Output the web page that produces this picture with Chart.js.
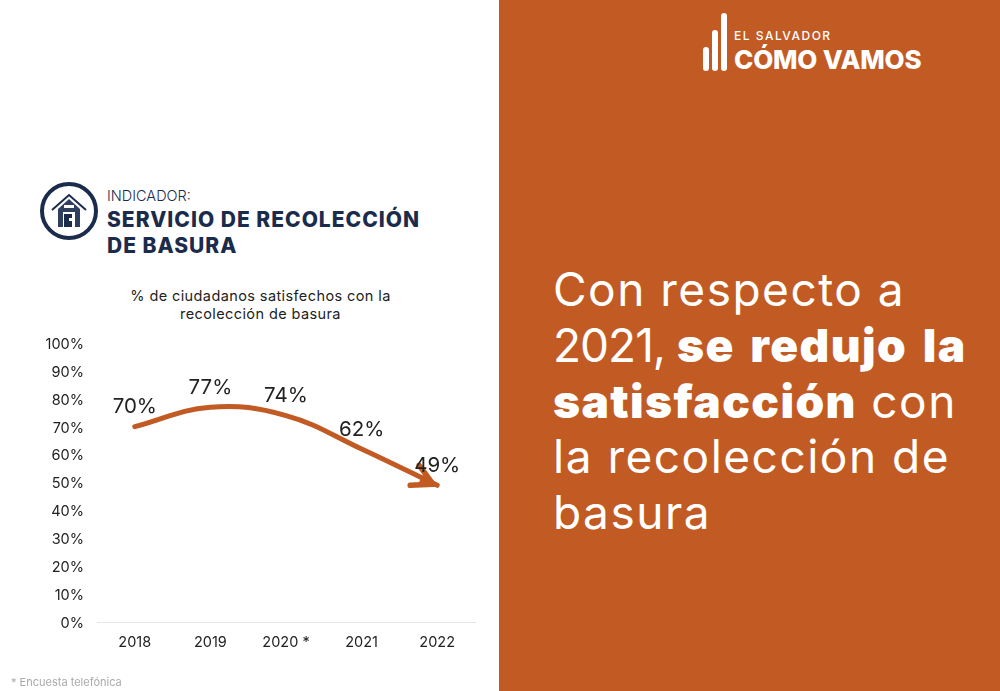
<!DOCTYPE html>
<html lang="es">
<head>
<meta charset="utf-8">
<title>Servicio de recolección de basura</title>
<script src="https://cdn.jsdelivr.net/npm/chart.js@4"></script>
<style>
    html, body { margin: 0; padding: 0; background: #fff; }
    body { width: 1000px; height: 691px; position: relative; overflow: hidden; font-family: Inter, sans-serif; }
    .t { position: absolute; white-space: nowrap; line-height: 1; }
    #panel { position: absolute; left: 499px; top: 0; width: 501px; height: 691px; background: #c25a24; }
    #grafica { position: absolute; left: 0; top: 320px; }
    .barra { position: absolute; width: 6px; background: #fff; border-radius: 3px; }
    #mensaje { left: 553px; top: 262px; font-size: 46px; line-height: 55.8px; color: #fff; font-weight: 400; letter-spacing: 1.5px; }
    #mensaje b { font-weight: 900; letter-spacing: 1.4px; word-spacing: 5px; }
    #mensaje span { letter-spacing: -1px; }
</style>
</head>
<body>
<div id="panel"></div>

<!-- logo -->
<div class="barra" style="left:703px;top:47px;height:24px"></div>
<div class="barra" style="left:712px;top:30px;height:41px"></div>
<div class="barra" style="left:721px;top:13px;height:58px"></div>
<div class="t" style="left:734px;top:30px;font-size:12px;font-weight:500;letter-spacing:1.5px;color:#fff">EL SALVADOR</div>
<div class="t" style="left:734px;top:47px;font-size:26px;font-weight:800;letter-spacing:-.2px;color:#fff">CÓMO VAMOS</div>

<!-- icono -->
<svg style="position:absolute;left:38px;top:180px" width="62" height="62" viewBox="0 0 62 62">
    <circle cx="31" cy="31" r="27" fill="none" stroke="#1b2b4b" stroke-width="4"/>
    <path d="M14 30 L31 15 L48 30" fill="none" stroke="#1b2b4b" stroke-width="2"/>
    <path d="M20 29 L31 19 L42 29 V47 H20 Z" fill="#2f3f5f"/>
    <rect x="26" y="25" width="10" height="3" fill="#fff"/>
    <rect x="25" y="32" width="12" height="15" fill="#fff"/>
    <rect x="26" y="34" width="8" height="13" fill="#1b2b4b"/>
    <rect x="31" y="38" width="3" height="3" fill="#fff"/>
</svg>

<div class="t" style="left:107px;top:189px;font-size:14.5px;font-weight:300;color:#1b2b4b">INDICADOR:</div>
<div class="t" style="left:107px;top:209px;font-size:21px;font-weight:800;letter-spacing:1px;color:#1b2b4b">SERVICIO DE RECOLECCIÓN</div>
<div class="t" style="left:107px;top:235px;font-size:21px;font-weight:800;letter-spacing:1px;color:#1b2b4b">DE BASURA</div>
<div class="t" style="left:130px;top:287px;width:261px;text-align:center;font-size:14.5px;letter-spacing:.4px;line-height:18px;color:#222">% de ciudadanos satisfechos con la<br>recolección de basura</div>

<canvas id="grafica" width="499" height="371"></canvas>

<div class="t" style="left:11px;top:677px;font-size:11px;color:#aaa">* Encuesta telefónica</div>

<div id="mensaje" class="t">Con respecto a<br><span>2021, </span><b>se redujo la</b><br><b>satisfacción</b> con<br>la recolección de<br>basura</div>

<script>
const categorias = ['2018', '2019', '2020 *', '2021', '2022'];
const satisfechos = [70, 77, 74, 62, 49];
const colorLinea = '#c25a24';

// punta de flecha y etiquetas de valor, encima de la línea
const flechaEtiquetas = {
    id: 'flechaEtiquetas',
    afterDatasetsDraw(chart) {
        const ctx = chart.ctx;
        const puntos = chart.getDatasetMeta(0).data;
        const ultimo = puntos[puntos.length - 1];

        ctx.save();
        ctx.strokeStyle = colorLinea;
        ctx.fillStyle = colorLinea;
        ctx.lineWidth = 5.5;
        ctx.lineCap = 'round';
        ctx.lineJoin = 'round';
        ctx.beginPath();
        ctx.moveTo(ultimo.x - 27, ultimo.y);
        ctx.lineTo(ultimo.x - 4, ultimo.y - 1);
        ctx.lineTo(ultimo.x - 18, ultimo.y - 20);
        ctx.stroke();
        // relleno junto a la punta
        ctx.beginPath();
        ctx.moveTo(ultimo.x, ultimo.y + 1);
        ctx.lineTo(ultimo.x - 20, ultimo.y);
        ctx.lineTo(ultimo.x - 12, ultimo.y - 14);
        ctx.closePath();
        ctx.fill();

        ctx.fillStyle = '#222';
        ctx.font = '20.5px Inter';
        ctx.textAlign = 'center';
        ctx.textBaseline = 'middle';
        puntos.forEach((p, i) => {
            ctx.fillText(satisfechos[i] + '%', p.x, p.y - 19.5);
        });
        ctx.restore();
    }
};

new Chart(document.getElementById('grafica'), {
    type: 'line',
    data: {
        labels: categorias,
        datasets: [{
            data: satisfechos,
            borderColor: colorLinea,
            borderWidth: 5,
            borderCapStyle: 'round',
            tension: 0.4,
            pointRadius: 0,
            fill: false,
            clip: false
        }]
    },
    options: {
        responsive: false,
        animation: false,
        layout: { padding: { top: 23, right: 24, bottom: 29, left: 0 } },
        plugins: { legend: { display: false }, tooltip: { enabled: false } },
        scales: {
            x: {
                offset: true,
                afterFit: s => { s.height = 40; },
                grid: { display: false, drawTicks: false },
                border: { display: true, color: '#e6e6e6', width: 1 },
                ticks: { color: '#222', padding: 12, maxRotation: 0, font: { family: 'Inter', size: 14.5 } }
            },
            y: {
                min: 0,
                max: 100,
                afterFit: s => { s.width = 97; },
                grid: { display: false, drawTicks: false },
                border: { display: false },
                ticks: {
                    stepSize: 10,
                    color: '#222',
                    padding: 13,
                    labelOffset: 1.5,
                    callback: v => v + '%',
                    font: { family: 'Inter', size: 14.5 }
                }
            }
        }
    },
    plugins: [flechaEtiquetas]
});
</script>
</body>
</html>
